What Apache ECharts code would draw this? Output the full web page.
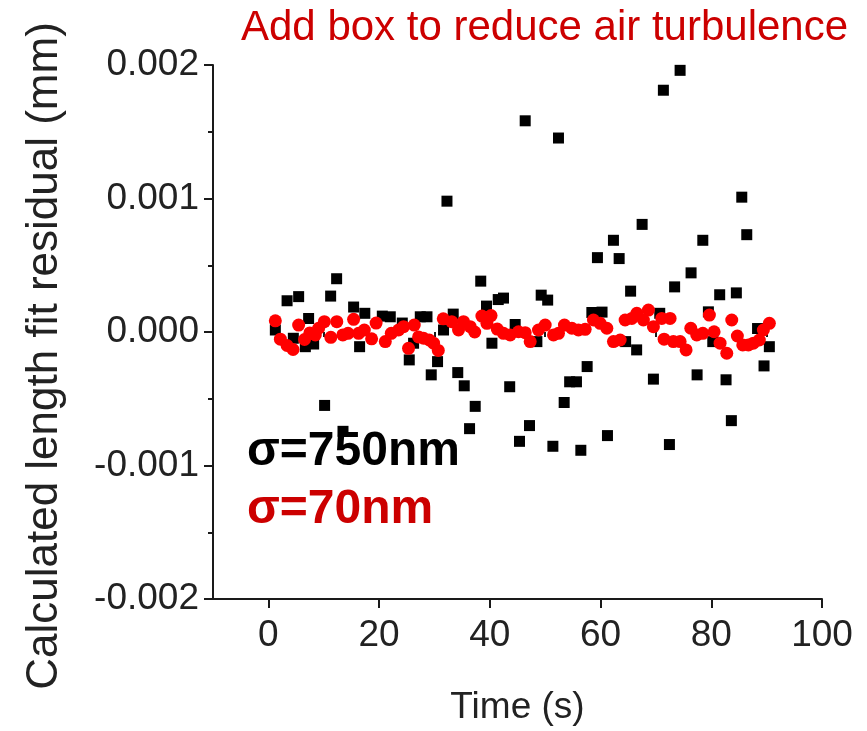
<!DOCTYPE html>
<html>
<head>
<meta charset="utf-8">
<script src="https://cdn.jsdelivr.net/npm/echarts@6/dist/echarts.min.js"></script>
<style>html,body{margin:0;padding:0;background:#fff}#c{width:867px;height:731px}</style>
</head>
<body>
<div id="c"></div>
<script>
const FONT = "'Liberation Sans', Arial, sans-serif";
const titleText = "Add box to reduce air turbulence";
const xAxisName = "Time (s)";
const yAxisName = "Calculated length fit residual (mm)";
const sigmaBlack = "σ=750nm";
const sigmaRed = "σ=70nm";
const xMajorTicks = [0, 20, 40, 60, 80, 100];
const xMinorTicks = [10, 30, 50, 70, 90];

// Before box (black squares): time (s), residual (mm)
const blackX = [1.26,3.38,4.51,5.47,6.68,7.27,8.18,10.16,11.25,12.33,13.48,15.40,16.48,17.42,20.58,22.02,24.19,25.45,26.23,27.44,28.65,29.42,30.56,31.64,32.26,33.39,34.21,35.38,36.34,37.36,38.36,39.40,40.38,41.52,42.47,43.59,44.58,45.36,46.39,47.17,48.50,49.28,50.45,51.39,52.40,53.43,54.42,55.65,56.44,57.58,58.43,59.44,60.27,61.25,62.33,63.36,64.53,65.43,66.52,67.51,69.55,70.69,71.35,72.44,73.38,74.37,76.35,77.44,78.47,79.48,80.27,81.52,82.67,83.63,84.53,85.51,86.41,88.36,89.53,90.49];
const blackY = [0.000015,0.000234,-0.000047,0.000265,-0.00011,0.000101,-0.00009,-0.00055,0.000269,0.000399,-0.000744,0.000187,-0.00011,0.00014,0.000119,0.000114,0.000067,-0.000209,-0.000084,0.000114,0.000114,-0.000321,-0.000222,0.000015,0.00098,0.000134,-0.000304,-0.000403,-0.000724,-0.000557,0.000381,0.000194,-0.000084,0.000243,0.000254,-0.00041,0.000056,-0.000819,0.001582,-0.000701,-0.000072,0.000276,0.000239,-0.000856,0.001453,-0.000528,-0.000373,-0.000373,-0.000886,-0.000259,0.000146,0.000557,0.000149,-0.000776,0.000687,0.00055,-0.000072,0.000306,-0.000134,0.000806,-0.000353,0.00014,0.001811,-0.000843,0.000338,0.00196,0.000443,-0.000321,0.000687,0.000151,-0.000072,0.000279,-0.000358,-0.000664,0.000293,0.00101,0.000729,0.000026,-0.000254,-0.00011];

// With box (red circles)
const redX = [1.26,2.17,3.38,4.46,5.47,6.53,7.49,8.48,9.08,10.11,11.28,12.36,13.45,14.39,15.40,16.30,17.33,18.65,19.46,21.12,22.20,23.52,24.42,25.32,26.35,27.13,28.03,29.06,29.84,30.69,31.59,33.12,34.35,35.25,36.46,37.27,38.57,39.48,40.22,41.34,42.47,43.68,45.18,46.39,47.29,48.79,50.00,51.50,52.40,53.48,54.82,56.01,57.22,58.72,59.93,61.14,62.33,63.54,64.44,65.65,66.55,67.74,68.65,69.55,71.06,71.48,72.56,73.16,74.37,75.45,76.30,77.38,78.47,79.66,80.51,81.59,82.80,83.70,84.71,85.69,86.70,87.60,88.68,89.41,90.49];
const redY = [0.000084,-0.000054,-0.000101,-0.000131,0.000052,-0.000056,-0.000007,-0.000022,0.000028,0.000077,-0.00004,0.000077,-0.000022,-0.00001,0.000095,-0.00001,0.000015,-0.000051,0.000067,-0.000072,-0.00001,0.000015,0.00004,-0.000122,0.000052,-0.000037,-0.000047,-0.00006,-0.000084,-0.000138,0.000099,0.000077,0.000015,0.000077,0.00004,0.0,0.000119,0.000065,0.000123,0.000022,-0.00001,-0.000022,0.000002,-0.000005,-0.000072,0.000015,0.000052,-0.000022,-0.00001,0.000052,0.000028,0.000015,0.00002,0.00009,0.000065,0.000028,-0.000072,-0.00006,0.00009,0.000102,0.00014,0.00009,0.000164,0.00004,0.000102,-0.000054,0.000102,-0.000072,-0.000072,-0.000134,0.000028,-0.000022,-0.00001,0.000127,0.000002,-0.000084,-0.000159,0.00009,-0.00003,-0.000097,-0.000097,-0.000084,-0.00006,0.000015,0.000065];

const blackData = blackX.map((x, i) => [x, blackY[i]]);
const redData = redX.map((x, i) => [x, redY[i]]);

const chart = echarts.init(document.getElementById('c'));
const axisColor = '#1a1a1a';
chart.setOption({
  backgroundColor: '#fff',
  animation: false,
  title: {
    text: titleText, left: 236, top: 2,
    textStyle: { fontFamily: FONT, fontSize: 42, fontWeight: 'normal', color: '#cc0000' }
  },
  grid: { left: 213, right: 45, top: 65, bottom: 131, containLabel: false },
  xAxis: [{
    type: 'value', min: -10, max: 100, interval: 10,
    name: xAxisName, nameLocation: 'middle', nameGap: 90,
    nameTextStyle: { fontFamily: FONT, fontSize: 37, color: '#222' },
    axisLine: { show: true, onZero: false, lineStyle: { color: axisColor, width: 2 } },
    axisTick: { show: true, customValues: xMajorTicks, length: 9, lineStyle: { color: axisColor, width: 2 } },
    axisLabel: { customValues: xMajorTicks, margin: 18, fontFamily: FONT, fontSize: 37, color: '#222' },
    splitLine: { show: false }
  }, {
    type: 'value', min: -10, max: 100, interval: 10, position: 'bottom',
    axisLine: { show: false },
    axisTick: { show: true, customValues: xMinorTicks, length: 5, lineStyle: { color: axisColor, width: 2 } },
    axisLabel: { show: false },
    splitLine: { show: false }
  }],
  yAxis: {
    type: 'value', min: -0.002, max: 0.002, interval: 0.001,
    axisLine: { show: true, onZero: false, lineStyle: { color: axisColor, width: 2 } },
    axisTick: { show: true, length: 9, lineStyle: { color: axisColor, width: 2 } },
    minorTick: { show: true, splitNumber: 2, length: 5, lineStyle: { color: axisColor, width: 2 } },
    axisLabel: { margin: 14, fontFamily: FONT, fontSize: 37, color: '#222', formatter: v => v.toFixed(3) },
    splitLine: { show: false }
  },
  graphic: [
    { type: 'text', x: 45, y: 356, rotation: Math.PI / 2,
      style: { text: yAxisName, font: "44px " + FONT, fill: '#222', align: 'center', verticalAlign: 'middle' } },
    { type: 'text', left: 247, top: 428, style: { text: sigmaBlack, font: "bold 48px " + FONT, fill: '#000' } },
    { type: 'text', left: 247, top: 486, style: { text: sigmaRed, font: "bold 48px " + FONT, fill: '#cc0000' } }
  ],
  series: [{
    type: 'scatter', xAxisIndex: 0, data: blackData, symbol: 'rect', symbolSize: 11,
    itemStyle: { color: '#000', opacity: 1 }, z: 2
  }, {
    type: 'scatter', xAxisIndex: 0, data: redData, symbol: 'circle', symbolSize: 13,
    itemStyle: { color: '#ff0000', opacity: 1 }, z: 3
  }]
});
</script>
</body>
</html>
